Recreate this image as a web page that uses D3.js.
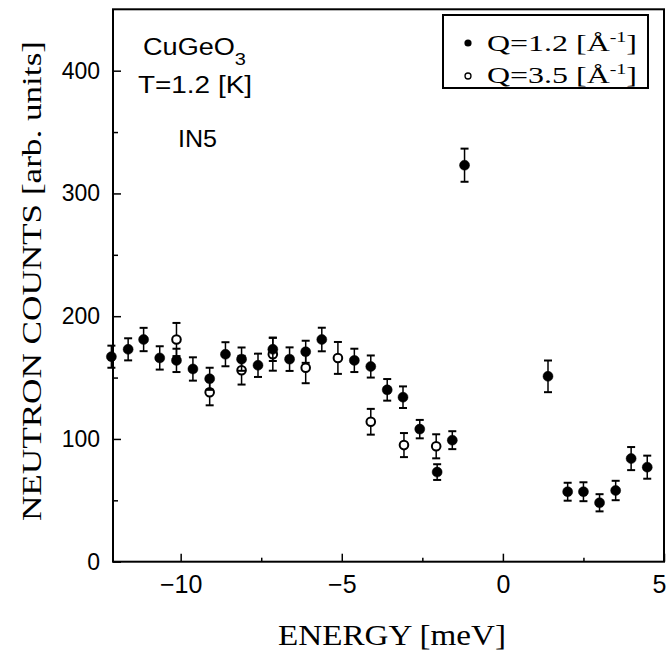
<!DOCTYPE html>
<html>
<head>
<meta charset="utf-8">
<script src="https://cdn.jsdelivr.net/npm/d3@7"></script>
<style>
  body { margin: 0; background: #fff; }
  svg { display: block; }
</style>
</head>
<body>
<script>
// Q=1.2 (filled circles)
const energyQ12 = [-12.15, -11.63, -11.15, -10.65, -10.13, -9.62, -9.1, -8.61, -8.11, -7.6, -7.14, -6.62, -6.12, -5.62, -4.61, -4.1, -3.59, -3.1, -2.58, -2.04, -1.57, -1.19, 1.4, 2.01, 2.5, 3.0, 3.5, 3.98, 4.48];
const countsQ12 = [167, 173, 181, 166, 164, 157, 149, 169, 165, 160, 173, 165, 171, 181, 164, 159, 140, 134, 108, 73, 99, 323, 151, 57, 57, 48, 58, 84, 77];
const errQ12 = [9, 9, 9.5, 9.5, 9.5, 9.5, 9, 9.8, 9.5, 9.5, 9.5, 9.6, 9, 9.6, 9.5, 9, 8.8, 8.8, 7.5, 6.4, 7.3, 13.5, 12.9, 7.3, 7.7, 7, 7.9, 9.4, 9.4];

// Q=3.5 (open circles)
const energyQ35 = [-10.13, -9.1, -8.11, -7.14, -6.12, -5.12, -4.1, -3.07, -2.07];
const countsQ35 = [181, 138, 156, 169, 158, 166, 114, 95, 94];
const errQ35 = [13.5, 10.6, 11.7, 13.4, 12.6, 13, 10.5, 9.8, 9.8];

const xMajor = [-10, -5, 0, 5];
const xMinor = [-7.5, -2.5, 2.5];
const yMajor = [0, 100, 200, 300, 400];
const yMinor = [50, 150, 250, 350];

const width = 667;
const height = 656;
const sans = "'Liberation Sans', Arial, sans-serif";
const serif = "'Liberation Serif', 'Times New Roman', serif";

const x = d3.scaleLinear([-12.1, 5], [113, 664]);
const y = d3.scaleLinear([0, 450], [561.7, 9.3]);

const svg = d3.create("svg")
  .attr("width", width)
  .attr("height", height)
  .attr("viewBox", [0, 0, width, height]);

// frame
svg.append("rect")
  .attr("x", x(-12.1)).attr("y", y(450))
  .attr("width", x(5) - x(-12.1)).attr("height", y(0) - y(450))
  .attr("fill", "none").attr("stroke", "#000").attr("stroke-width", 2);

// x axis, ticks pointing inward
const gx = svg.append("g").attr("transform", `translate(0,${y(0)})`);
gx.call(d3.axisBottom(x).tickValues(xMajor).tickSize(-8).tickPadding(14).tickFormat(d3.format("d")));
gx.append("g").call(d3.axisBottom(x).tickValues(xMinor).tickSize(-4).tickFormat(""));
gx.selectAll(".domain").remove();
gx.selectAll("line").attr("stroke", "#000").attr("stroke-width", 1.5);
gx.selectAll("text").attr("font-family", sans).attr("font-size", 25).attr("fill", "#000");
// last label sits at the page edge; nudge it so it stays inside
gx.selectAll(".tick text").filter(d => d === 5).attr("dx", -5);

// y axis
const gy = svg.append("g").attr("transform", `translate(${x(-12.1)},0)`);
gy.call(d3.axisLeft(y).tickValues(yMajor).tickSize(-8).tickPadding(13).tickFormat(d3.format("d")));
gy.append("g").call(d3.axisLeft(y).tickValues(yMinor).tickSize(-5).tickFormat(""));
gy.selectAll(".domain").remove();
gy.selectAll("line").attr("stroke", "#000").attr("stroke-width", 1.5);
gy.selectAll("text").attr("font-family", sans).attr("font-size", 23).attr("fill", "#000");

// error bars + markers
function drawSeries(es, cs, errs, filled) {
  const data = es.map((e, i) => ({ e, c: cs[i], s: errs[i] }));
  const g = svg.append("g").attr("stroke", "#000");
  const bars = g.selectAll("g.bar").data(data).join("g").attr("class", "bar");
  bars.append("line")
    .attr("x1", d => x(d.e)).attr("x2", d => x(d.e))
    .attr("y1", d => y(d.c + d.s)).attr("y2", d => y(d.c - d.s))
    .attr("stroke-width", 1.5);
  bars.append("line")
    .attr("x1", d => x(d.e) - 4).attr("x2", d => x(d.e) + 4)
    .attr("y1", d => y(d.c + d.s)).attr("y2", d => y(d.c + d.s))
    .attr("stroke-width", 2);
  bars.append("line")
    .attr("x1", d => x(d.e) - 4).attr("x2", d => x(d.e) + 4)
    .attr("y1", d => y(d.c - d.s)).attr("y2", d => y(d.c - d.s))
    .attr("stroke-width", 2);
  g.selectAll("circle").data(data).join("circle")
    .attr("cx", d => x(d.e)).attr("cy", d => y(d.c))
    .attr("r", filled ? 5 : 4.3)
    .attr("fill", filled ? "#000" : "#fff")
    .attr("stroke-width", filled ? 0.5 : 2);
}
drawSeries(energyQ35, countsQ35, errQ35, false);
drawSeries(energyQ12, countsQ12, errQ12, true);

// annotations
const note = svg.append("g").attr("font-family", sans).attr("font-size", 23).attr("fill", "#000");
const cu = note.append("text").attr("x", 143).attr("y", 55)
  .attr("textLength", 103).attr("lengthAdjust", "spacingAndGlyphs");
cu.append("tspan").text("CuGeO");
cu.append("tspan").attr("dy", 10).attr("font-size", 17).text("3");
note.append("text").attr("x", 138).attr("y", 93)
  .attr("textLength", 114).attr("lengthAdjust", "spacingAndGlyphs").text("T=1.2 [K]");
note.append("text").attr("x", 178).attr("y", 147)
  .attr("textLength", 39).attr("lengthAdjust", "spacingAndGlyphs").text("IN5");

// legend
const legend = svg.append("g");
legend.append("rect").attr("x", 443).attr("y", 15).attr("width", 205).attr("height", 73)
  .attr("fill", "#fff").attr("stroke", "#000").attr("stroke-width", 2);
legend.append("circle").attr("cx", 468).attr("cy", 43).attr("r", 3.6).attr("fill", "#000");
legend.append("circle").attr("cx", 468).attr("cy", 76).attr("r", 3).attr("fill", "#fff")
  .attr("stroke", "#000").attr("stroke-width", 1.3);
const legendLabels = ["Q=1.2 [Å", "Q=3.5 [Å"];
legendLabels.forEach((lab, i) => {
  const t = legend.append("text").attr("x", 487).attr("y", 51 + i * 32)
    .attr("font-family", serif).attr("font-size", 24)
    .attr("textLength", 150).attr("lengthAdjust", "spacingAndGlyphs");
  t.append("tspan").text(lab);
  t.append("tspan").attr("dy", -9).attr("font-size", 15).text("-1");
  t.append("tspan").attr("dy", 9).text("]");
});

// axis titles
svg.append("text")
  .attr("x", 392).attr("y", 645)
  .attr("text-anchor", "middle")
  .attr("font-family", serif).attr("font-size", 29)
  .attr("textLength", 228).attr("lengthAdjust", "spacingAndGlyphs")
  .text("ENERGY [meV]");
svg.append("text")
  .attr("transform", "translate(41,281) rotate(-90)")
  .attr("text-anchor", "middle")
  .attr("font-family", serif).attr("font-size", 28)
  .attr("textLength", 480).attr("lengthAdjust", "spacingAndGlyphs")
  .text("NEUTRON COUNTS [arb. units]");

document.body.appendChild(svg.node());
</script>
</body>
</html>
